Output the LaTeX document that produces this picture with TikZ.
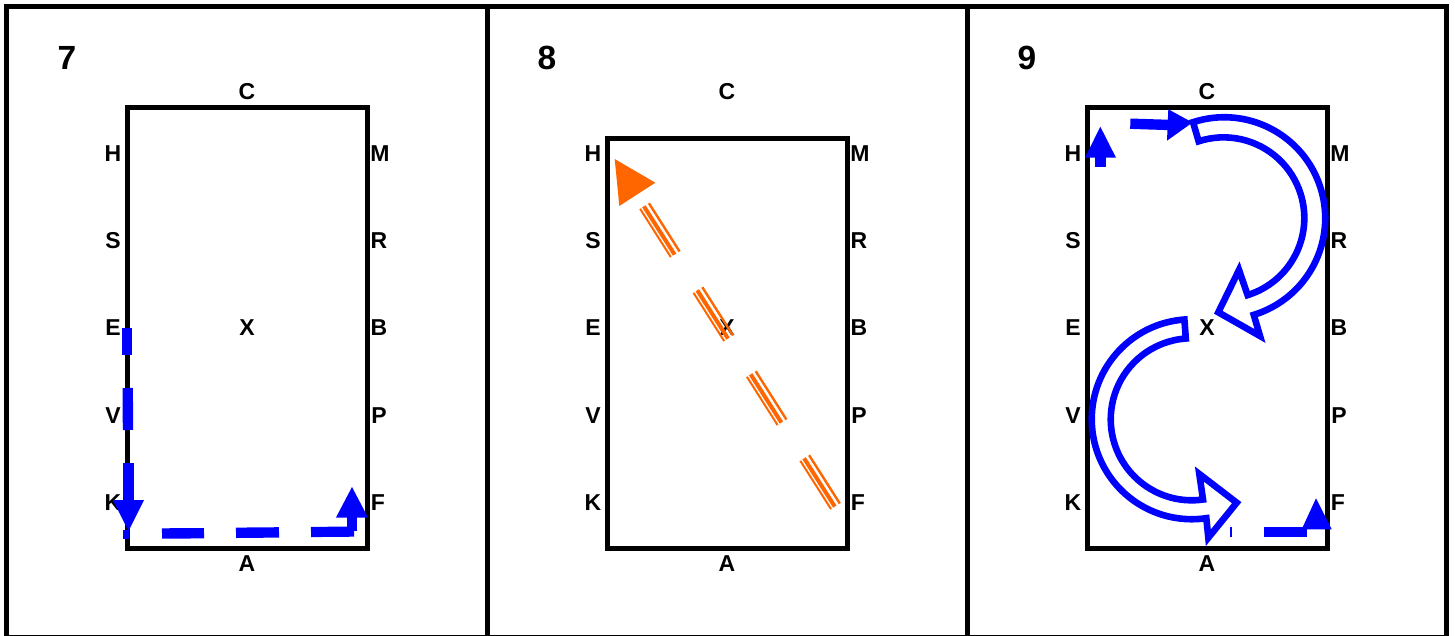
\documentclass[tikz,border=0pt]{standalone}
\usepackage{fontspec}
\setmainfont{Liberation Sans}
\definecolor{blu}{HTML}{0000FF}
\definecolor{org}{HTML}{FF6600}
\tikzset{
  lab/.style={font=\bfseries\fontsize{23}{23}\selectfont,inner sep=0pt,text=black},
  num/.style={font=\bfseries\fontsize{33.5}{33.5}\selectfont,inner sep=0pt,text=black},
  frameline/.style={draw=black,line width=5pt},
  arena/.style={draw=black,line width=5pt,miter limit=10},
  stem/.style={draw=blu,line width=10.4pt},
  head/.style={fill=blu,draw=none},
  hollow/.style={draw=blu,line width=6.6pt,line join=miter,miter limit=20},
}
\newcommand{\boxlabels}[2]{% x offset, C y
  \begin{scope}[xshift=#1pt]
    \node[lab] (C#1) at (247,#2) {C};
    \node[lab] (H#1) at (113,154) {H};
    \node[lab] (M#1) at (380,154) {M};
    \node[lab] (S#1) at (113,241) {S};
    \node[lab] (R#1) at (379,241) {R};
    \node[lab] (E#1) at (113,328) {E};
    \node[lab] (B#1) at (379,328) {B};
    \node[lab] (V#1) at (113,416) {V};
    \node[lab] (P#1) at (379,416) {P};
    \node[lab] (K#1) at (113,503) {K};
    \node[lab] (F#1) at (378,503) {F};
    \node[lab] (X#1) at (247,328) {X};
    \node[lab] (A#1) at (247,564) {A};
  \end{scope}}
\newcommand{\tripledash}[2]{% shift of one dash along the line
  \begin{scope}[shift={(#1,#2)}]
    \draw[org,line width=2pt] (640.1,208.8) -- ++(30.7,48.3);
    \draw[org,line width=4pt] (643.9,206.3) -- ++(30.7,48.3);
    \draw[org,line width=2.4pt] (648.9,203.2) -- ++(30.7,48.3);
  \end{scope}}
\begin{document}
\begin{tikzpicture}[x=1pt,y=-1pt]
\useasboundingbox (0,0) rectangle (1455,636);
\fill[white] (0,0) rectangle (1455,636);
% panels
\draw[frameline] (6.5,7) rectangle (1446.5,637.8);
\draw[frameline] (487,7) -- (487,636);
\draw[frameline] (967,7) -- (967,636);
\node[num] (n7) at (67,58) {7};
\node[num] (n8) at (547,58) {8};
\node[num] (n9) at (1027,58) {9};
% arenas
\draw[arena] (127,108) rectangle (367,548);
\draw[arena] (607,139) rectangle (847,548);
\draw[arena] (1087,108) rectangle (1327,548);
\boxlabels{0}{92}
\boxlabels{480}{92}
\boxlabels{960}{92}
% panel 7
\draw[stem] (127,328) -- (127,355);
\draw[stem] (127.7,388) -- (128,430);
\draw[stem] (128.5,463) -- (128.5,505);
\fill[head] (113,500) -- (144,500) -- (128.5,531) -- cycle;
\draw[blu,line width=6pt] (126,530) -- (126,539);
\draw[stem] (162,533.5) -- (204,533.2);
\draw[stem] (236,532.8) -- (279,532.4);
\draw[blu,line width=10.2pt] (311,532) -- (354,531.6);
\draw[stem] (352,531) -- (352,515);
\fill[head] (336,517.5) -- (368,517.5) -- (352,487) -- cycle;
% panel 8
\fill[org] (614.7,159) -- (655.3,182.7) -- (619.3,206) -- cycle;
\tripledash{0}{0}
\tripledash{53.4}{84}
\tripledash{106.8}{168}
\tripledash{160.2}{252}
% panel 9
\draw[stem] (1100.3,167) -- (1100.3,155);
\fill[head] (1085,157.7) -- (1116,157.7) -- (1100.3,126.7) -- cycle;
\draw[stem] (1130.3,123.7) -- (1170,125);
\fill[head] (1168.3,109.3) -- (1192.5,122.5) -- (1167,140.7) -- cycle;
\draw[hollow] (1193,122.2) arc[start angle=-108,end angle=73,radius=101]
  -- (1260,336) -- (1218.3,312.3) -- (1239,270) -- (1247.6,295.1)
  arc[start angle=72.7,end angle=-108,radius=80.7] -- cycle;
\draw[hollow] (1184.4,319.5) arc[start angle=-94.2,end angle=-278.4,radius=100]
  -- (1208.3,537.7) -- (1236.7,502.7) -- (1199.3,474) -- (1203,499.5)
  arc[start angle=-278,end angle=-94.2,radius=81] -- cycle;
\draw[blu,line width=2pt] (1230.7,527) -- (1230.7,537.3);
\draw[stem] (1263.7,532) -- (1306.7,532);
\fill[head] (1301.7,529.3) -- (1331.7,529.3) -- (1316,498.3) -- cycle;
\end{tikzpicture}
\end{document}
